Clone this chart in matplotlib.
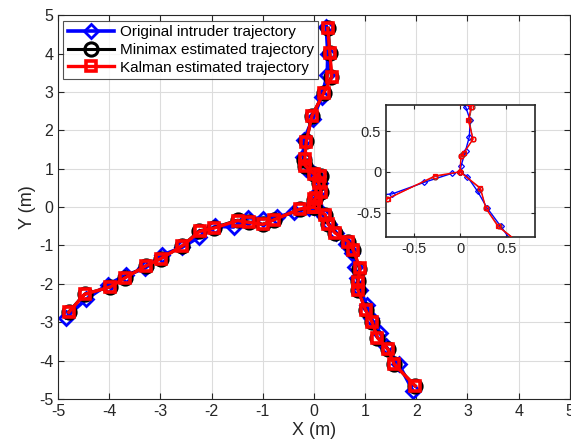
import matplotlib
matplotlib.use("Agg")
import matplotlib.pyplot as plt

plt.rcParams['font.family'] = ['Liberation Sans', 'DejaVu Sans']
plt.rcParams['axes.unicode_minus'] = False

# ---- Original intruder trajectory (three branches from the origin)
orig_top_x = [0.24, 0.27, 0.26, 0.15, -0.02, -0.20, -0.21, -0.15, -0.02, 0.06, 0.11, 0.10, 0.06, 0.01, 0.0]
orig_top_y = [4.70, 4.00, 3.45, 2.88, 2.30, 1.75, 1.30, 1.00, 0.88, 0.80, 0.63, 0.43, 0.26, 0.07, 0.0]
orig_left_x = [0.0, -0.09, -0.39, -0.73, -0.99, -1.28, -1.57, -1.93, -2.24, -2.58, -2.96, -3.31, -3.68, -4.03, -4.45, -4.85]
orig_left_y = [0.0, -0.02, -0.13, -0.27, -0.30, -0.28, -0.52, -0.50, -0.78, -1.05, -1.25, -1.60, -1.78, -2.02, -2.40, -2.88]
orig_right_x = [0.0, 0.08, 0.19, 0.29, 0.44, 0.62, 0.74, 0.80, 0.84, 0.90, 1.03, 1.12, 1.29, 1.40, 1.66, 1.94]
orig_right_y = [0.0, -0.06, -0.24, -0.44, -0.67, -0.95, -1.20, -1.55, -1.85, -2.15, -2.55, -2.90, -3.27, -3.62, -4.10, -4.80]

# ---- Minimax estimated trajectory
mm_top_x = [0.28, 0.31, 0.34, 0.19, -0.04, -0.15, -0.19, -0.17, 0.0, 0.13, 0.10, 0.14, 0.03, 0.01, 0.0]
mm_top_y = [4.66, 4.02, 3.39, 2.97, 2.38, 1.71, 1.23, 1.07, 0.86, 0.80, 0.64, 0.40, 0.22, 0.19, 0.0]
mm_left_x = [0.0, -0.27, -0.79, -1.00, -1.27, -1.49, -1.96, -2.24, -2.57, -2.99, -3.28, -3.70, -3.98, -4.48, -4.79]
mm_left_y = [0.0, -0.06, -0.33, -0.45, -0.39, -0.34, -0.54, -0.62, -1.01, -1.34, -1.53, -1.84, -2.08, -2.27, -2.73]
mm_right_x = [0.0, 0.22, 0.28, 0.42, 0.67, 0.77, 0.89, 0.86, 0.86, 1.01, 1.14, 1.24, 1.45, 1.57, 1.98]
mm_right_y = [0.0, -0.21, -0.45, -0.67, -0.90, -1.12, -1.61, -1.93, -2.15, -2.68, -3.00, -3.40, -3.71, -4.10, -4.66]

# ---- Kalman estimated trajectory
kf_top_x = [0.27, 0.31, 0.35, 0.19, -0.04, -0.15, -0.18, -0.17, 0.0, 0.12, 0.09, 0.14, 0.04, 0.01, 0.0]
kf_top_y = [4.66, 4.02, 3.39, 2.97, 2.37, 1.70, 1.24, 1.08, 0.86, 0.80, 0.63, 0.40, 0.23, 0.20, 0.0]
kf_left_x = [0.0, -0.27, -0.78, -0.99, -1.27, -1.49, -1.96, -2.23, -2.57, -2.99, -3.28, -3.70, -3.98, -4.48, -4.79]
kf_left_y = [0.0, -0.05, -0.33, -0.45, -0.40, -0.35, -0.55, -0.63, -1.01, -1.34, -1.53, -1.85, -2.08, -2.27, -2.74]
kf_right_x = [0.0, 0.22, 0.28, 0.41, 0.67, 0.77, 0.90, 0.86, 0.86, 1.01, 1.14, 1.24, 1.45, 1.57, 1.98]
kf_right_y = [0.0, -0.20, -0.45, -0.67, -0.90, -1.12, -1.60, -1.94, -2.16, -2.68, -3.00, -3.40, -3.71, -4.10, -4.66]

labels = ['Original intruder trajectory', 'Minimax estimated trajectory', 'Kalman estimated trajectory']
ticks_main = [-5, -4, -3, -2, -1, 0, 1, 2, 3, 4, 5]
ticks_inset = [-0.5, 0, 0.5]

series = [
    (orig_top_x, orig_top_y, orig_left_x, orig_left_y, orig_right_x, orig_right_y),
    (mm_top_x, mm_top_y, mm_left_x, mm_left_y, mm_right_x, mm_right_y),
    (kf_top_x, kf_top_y, kf_left_x, kf_left_y, kf_right_x, kf_right_y),
]
colors = ['#0000ff', '#000000', '#ff0000']
markers = ['D', 'o', 's']
msizes = [7, 9.5, 7.5]
mews = [2.0, 2.2, 2.6]
lws = [2.6, 2.2, 2.4]

fig = plt.figure(figsize=(5.71, 4.46), dpi=100)
ax = fig.add_axes([0.1016, 0.1054, 0.8964, 0.8606])

for i, s in enumerate(series):
    for b in range(3):
        xs, ys = s[2 * b], s[2 * b + 1]
        ax.plot(xs, ys, color=colors[i], marker=markers[i], markersize=msizes[i],
                markerfacecolor='none', markeredgewidth=mews[i], linewidth=lws[i],
                label=labels[i] if b == 0 else None, zorder=2 + i)

ax.set_xlim(-5, 5)
ax.set_ylim(-5, 5)
ax.set_xticks(ticks_main)
ax.set_yticks(ticks_main)
ax.grid(True, color='#dcdcdc', linewidth=0.8)
ax.set_axisbelow(True)
ax.tick_params(direction='in', top=True, right=True, labelsize=11.5, colors='#262626', length=4)
for sp in ax.spines.values():
    sp.set_color('#262626')
    sp.set_linewidth(0.8)
ax.set_xlabel('X (m)', fontsize=13, color='#262626', labelpad=2)
ax.set_ylabel('Y (m)', fontsize=13, color='#262626', labelpad=2)

leg = ax.legend(loc='upper left', fontsize=11, frameon=True, fancybox=False,
                edgecolor='#262626', borderpad=0.3, handlelength=3.0,
                labelspacing=0.25, handletextpad=0.4, borderaxespad=0.35)
leg.get_frame().set_linewidth(0.8)

# ---- inset
axi = fig.add_axes([0.676, 0.4686, 0.261, 0.296])
isizes = [3, 3.5, 3]
for i, s in enumerate(series):
    for b in range(3):
        xs, ys = s[2 * b], s[2 * b + 1]
        axi.plot(xs, ys, color=colors[i] if i != 1 else '#7a2a2a', marker=markers[i],
                 markersize=isizes[i], markerfacecolor='none', markeredgewidth=0.9,
                 linewidth=1.0 if i != 1 else 0.6, zorder=2 + i)
axi.set_xlim(-0.8, 0.81)
axi.set_ylim(-0.8, 0.82)
axi.set_xticks(ticks_inset)
axi.set_yticks(ticks_inset)
axi.set_xticklabels(['-0.5', '0', '0.5'])
axi.set_yticklabels(['-0.5', '0', '0.5'])
axi.grid(True, color='#dcdcdc', linewidth=0.8)
axi.set_axisbelow(True)
axi.tick_params(direction='in', top=True, right=True, labelsize=10.5, colors='#262626', length=3)
for sp in axi.spines.values():
    sp.set_color('#262626')
    sp.set_linewidth(1.2)

fig.savefig('out.png', dpi=100)
